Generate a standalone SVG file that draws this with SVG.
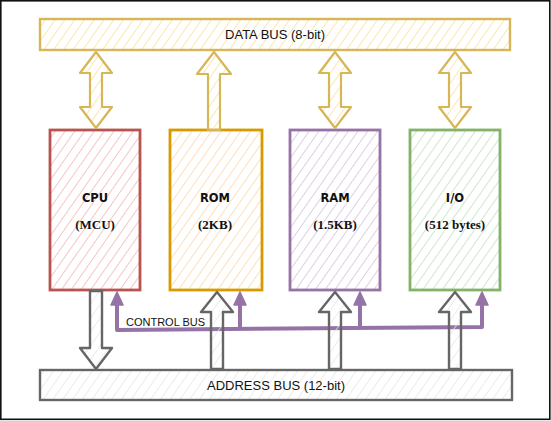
<svg xmlns="http://www.w3.org/2000/svg" width="551" height="421" viewBox="0 0 551 421">
<defs>
<pattern id="hY" width="8" height="8" patternUnits="userSpaceOnUse" patternTransform="rotate(35)"><line x1="0" y1="0" x2="0" y2="8" stroke="#fbe3a0" stroke-width="1.7"/></pattern>
<pattern id="hR" width="8" height="8" patternUnits="userSpaceOnUse" patternTransform="rotate(35)"><line x1="0" y1="0" x2="0" y2="8" stroke="#f5bcba" stroke-width="1.7"/></pattern>
<pattern id="hO" width="8" height="8" patternUnits="userSpaceOnUse" patternTransform="rotate(35)"><line x1="0" y1="0" x2="0" y2="8" stroke="#ffd8b0" stroke-width="1.7"/></pattern>
<pattern id="hP" width="8" height="8" patternUnits="userSpaceOnUse" patternTransform="rotate(35)"><line x1="0" y1="0" x2="0" y2="8" stroke="#d8c6e2" stroke-width="1.7"/></pattern>
<pattern id="hG" width="8" height="8" patternUnits="userSpaceOnUse" patternTransform="rotate(35)"><line x1="0" y1="0" x2="0" y2="8" stroke="#c6e3c3" stroke-width="1.7"/></pattern>
<pattern id="hK" width="8" height="8" patternUnits="userSpaceOnUse" patternTransform="rotate(35)"><line x1="0" y1="0" x2="0" y2="8" stroke="#e6e6e6" stroke-width="1.5"/></pattern>
</defs>
<style>
.bus{font-family:"Liberation Sans",Arial,sans-serif;font-size:13px;fill:#111;text-anchor:middle}
.ttl{font-family:"DejaVu Sans",sans-serif;font-weight:bold;font-size:11.5px;fill:#111;text-anchor:middle}
.sub{font-family:"Liberation Serif","Times New Roman",serif;font-weight:bold;font-size:13px;fill:#111;text-anchor:middle}
.node{stroke-width:2.8}
.ya{fill:url(#hY);stroke:#d6b656;stroke-width:2.2;stroke-linejoin:round}
.ga{fill:url(#hK);stroke:#666;stroke-width:2.4;stroke-linejoin:round}
.ctl{fill:none;stroke:#9673a6;stroke-width:4;stroke-linejoin:round}
.ctlh{fill:#9673a6;stroke:#9673a6;stroke-width:1.5;stroke-linejoin:round}
</style>
<rect x="0" y="0" width="551" height="421" fill="#fff"/>
<rect x="0.8" y="0.8" width="549" height="418.5" fill="none" stroke="#111" stroke-width="1.6"/>

<g id="data-bus">
<rect x="40" y="19" width="470" height="31" fill="url(#hY)" stroke="#d6b656" stroke-width="2.4"/>
<text class="bus" x="275" y="39">DATA BUS (8-bit)</text>
</g>

<g id="cpu">
<rect class="node" x="50" y="130" width="90" height="160" fill="url(#hR)" stroke="#b85450"/>
<text class="ttl" x="95" y="202">CPU</text>
<text class="sub" x="95" y="229">(MCU)</text>
</g>
<g id="rom">
<rect class="node" x="170" y="130" width="92" height="160" fill="url(#hO)" stroke="#d79b00"/>
<text class="ttl" x="215" y="202">ROM</text>
<text class="sub" x="215" y="229">(2KB)</text>
</g>
<g id="ram">
<rect class="node" x="290" y="130" width="90" height="160" fill="url(#hP)" stroke="#9673a6"/>
<text class="ttl" x="335" y="202">RAM</text>
<text class="sub" x="335" y="229">(1.5KB)</text>
</g>
<g id="io">
<rect class="node" x="410" y="130" width="90" height="160" fill="url(#hG)" stroke="#82b366"/>
<text class="ttl" x="455" y="202">I/O</text>
<text class="sub" x="455" y="229">(512 bytes)</text>
</g>

<g id="address-bus">
<rect x="40" y="370" width="472" height="30" fill="url(#hK)" stroke="#666" stroke-width="2.4"/>
<text class="bus" x="276" y="390">ADDRESS BUS (12-bit)</text>
</g>

<g id="connectors">
<path class="ya" d="M96,52 L112,73 L102,73 L102,107 L112,107 L96,128 L80,107 L90,107 L90,73 L80,73 Z"/>
<path class="ya" d="M214,52 L231,74 L220,74 L220,130 L208,130 L208,74 L197,74 Z"/>
<path class="ya" d="M335,52 L351,73 L341,73 L341,107 L351,107 L335,128 L319,107 L329,107 L329,73 L319,73 Z"/>
<path class="ya" d="M455,52 L471,73 L461,73 L461,107 L471,107 L455,128 L439,107 L449,107 L449,73 L439,73 Z"/>

<path class="ctl" d="M117,302 V330 L482,327 V302 M240,302 V328 M360,302 V328"/>
<path class="ctlh" d="M117,292 L123,305 L111,305 Z"/>
<path class="ctlh" d="M240,292 L246,305 L234,305 Z"/>
<path class="ctlh" d="M360,292 L366,305 L354,305 Z"/>
<path class="ctlh" d="M482,292 L488,305 L476,305 Z"/>

<path class="ga" d="M90,291 L102,291 L102,348 L112,348 L96,369 L80,348 L90,348 Z"/>
<path class="ga" d="M217,292 L233,312 L223,312 L223,369 L211,369 L211,312 L201,312 Z"/>
<path class="ga" d="M335,292 L351,312 L341,312 L341,369 L329,369 L329,312 L319,312 Z"/>
<path class="ga" d="M455,292 L471,312 L461,312 L461,369 L449,369 L449,312 L439,312 Z"/>

<text x="126" y="326" font-family="Liberation Sans,Arial,sans-serif" font-size="11" fill="#111">CONTROL BUS</text>
</g>
</svg>
